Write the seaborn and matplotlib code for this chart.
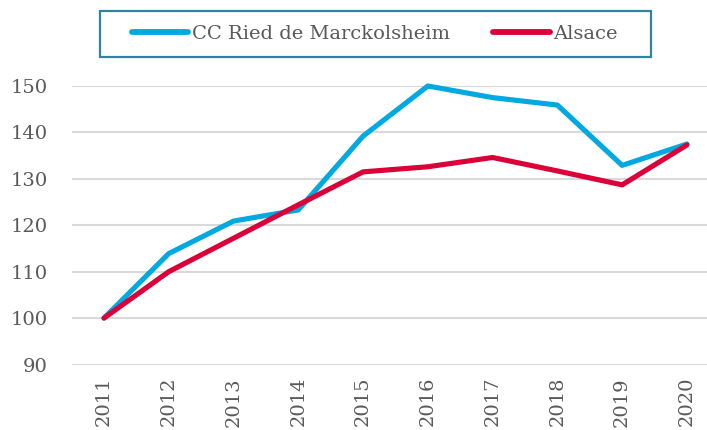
import numpy as np
import pandas as pd
import matplotlib
matplotlib.use("Agg")
import matplotlib.pyplot as plt
from matplotlib.patches import Rectangle
import seaborn as sns

# values (index, 2011 = 100)
years = ["2011", "2012", "2013", "2014", "2015", "2016", "2017", "2018", "2019", "2020"]
ried = [100, 113.9, 120.9, 123.3, 139.2, 150.0, 147.5, 145.9, 132.9, 137.5]
alsace = [100, 110.0, 117.2, 124.4, 131.5, 132.6, 134.6, 131.7, 128.7, 137.3]
series_names = ["CC Ried de Marckolsheim", "Alsace"]

df = pd.DataFrame({
    "Year": years * 2,
    "Value": ried + alsace,
    "Serie": [series_names[0]] * len(years) + [series_names[1]] * len(years),
})

sns.set_style("white")
plt.rcParams['font.family'] = ['DejaVu Serif']

text_col = '#595959'
W, H = 707, 430
fig = plt.figure(figsize=(7.07, 4.30), dpi=100)
ax = fig.add_axes([71.6 / W, 65.5 / H, 1 - 71.6 / W, (364.5 - 86) / H])

sns.lineplot(data=df, x="Year", y="Value", hue="Serie", sort=False,
             palette=['#00A9E0', '#DC0039'], linewidth=3.7, ax=ax, legend=True)
for ln in ax.get_lines():
    ln.set_solid_capstyle('round')
    ln.set_solid_joinstyle('round')
    ln.set_clip_on(False)

ax.set_ylim(90, 150)
ax.set_yticks(range(90, 151, 10))
ax.set_xlim(-0.5, 9.31)
ax.grid(axis='y', color='#D9D9D9', linewidth=1.5)
ax.set_axisbelow(True)
for s in ax.spines.values():
    s.set_visible(False)
ax.set_xlabel('')
ax.set_ylabel('')
ax.tick_params(axis='x', labelrotation=90, length=0, pad=9, labelsize=14, colors=text_col)
ax.tick_params(axis='y', length=0, pad=17, labelsize=14, colors=text_col)

handles, labels = ax.get_legend_handles_labels()
ax.get_legend().remove()
leg = fig.legend(handles, labels, loc='center', bbox_to_anchor=(375 / W, 1 - 34 / H), ncol=2,
                 fontsize=14, frameon=False, handlelength=2.9,
                 handletextpad=0.2, columnspacing=2.2)
for t in leg.get_texts():
    t.set_color(text_col)
for h in leg.legend_handles:
    h.set_linewidth(4.2)
    h.set_solid_capstyle('round')

# legend frame like the original box
fig.patches.append(Rectangle((100 / W, 1 - 57 / H), 551 / W, 46 / H, transform=fig.transFigure,
                             fill=False, edgecolor='#31849B', linewidth=1.6))

fig.savefig('out.png', dpi=100)
